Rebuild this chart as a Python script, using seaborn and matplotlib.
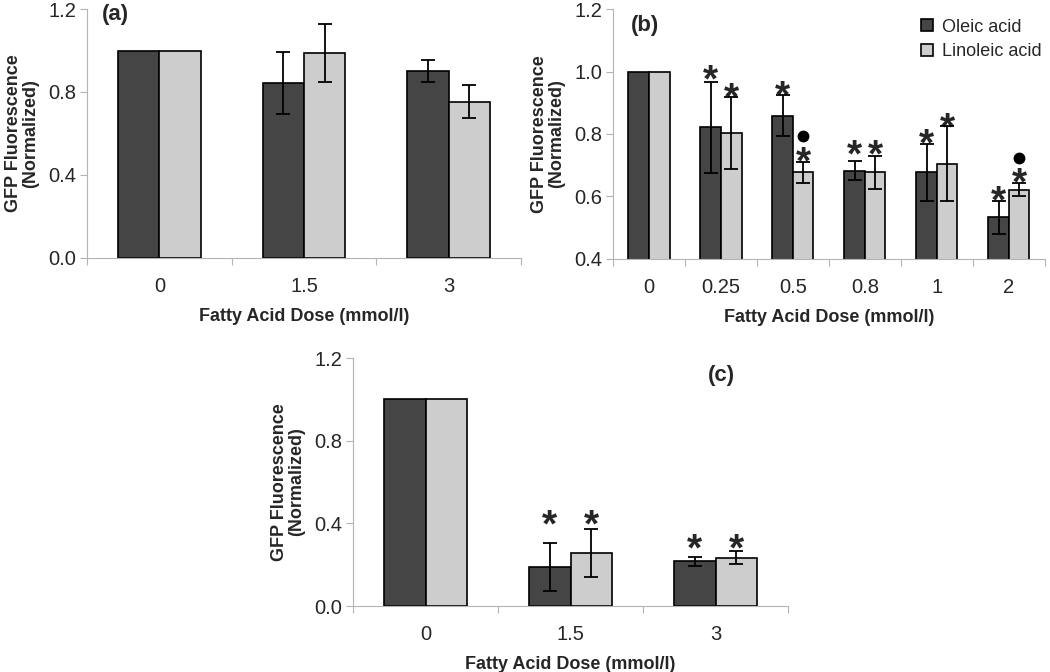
import numpy as np
import pandas as pd
import matplotlib
matplotlib.use("Agg")
import matplotlib.pyplot as plt
from matplotlib.container import BarContainer
import seaborn as sns

# ---------------- data ----------------
acids = ["Oleic acid", "Linoleic acid"]
colors = ["#454545", "#cdcdcd"]

doses_a = ["0", "1.5", "3"]
oleic_a = [1.0, 0.845, 0.903]
oleic_a_err = [0.0, 0.150, 0.053]
linoleic_a = [1.0, 0.986, 0.753]
linoleic_a_err = [0.0, 0.140, 0.080]

doses_b = ["0", "0.25", "0.5", "0.8", "1", "2"]
oleic_b = [1.0, 0.821, 0.859, 0.682, 0.677, 0.533]
oleic_b_err = [0.0, 0.147, 0.065, 0.030, 0.090, 0.052]
linoleic_b = [1.0, 0.803, 0.677, 0.677, 0.705, 0.622]
linoleic_b_err = [0.0, 0.115, 0.033, 0.052, 0.120, 0.022]
star_oleic_b = [None, 1.010, 0.959, 0.771, 0.806, 0.622]
star_linoleic_b = [None, 0.954, 0.749, 0.771, 0.856, 0.680]
dot_linoleic_b = [None, None, 0.795, None, None, 0.723]

doses_c = ["0", "1.5", "3"]
oleic_c = [1.0, 0.190, 0.216]
oleic_c_err = [0.0, 0.116, 0.022]
linoleic_c = [1.0, 0.258, 0.234]
linoleic_c_err = [0.0, 0.116, 0.033]
star_oleic_c = [None, 0.451, 0.332]
star_linoleic_c = [None, 0.451, 0.332]

yticks_ac = [0.0, 0.4, 0.8, 1.2]
yticks_b = [0.4, 0.6, 0.8, 1.0, 1.2]

# ---------------- style ----------------
sns.set_style("white")
plt.rcParams["font.family"] = ["Liberation Sans", "DejaVu Sans"]

SPINE = "#b4b4b4"


def panel(ax, doses, ol, ol_e, li, li_e, ylim, yticks, tag, tag_xy,
          stars=None, dots=None, legend=False):
    n = len(doses)
    df = pd.DataFrame({
        "dose": doses + doses,
        "value": ol + li,
        "acid": [acids[0]] * n + [acids[1]] * n,
    })
    sns.barplot(data=df, x="dose", y="value", hue="acid", order=doses,
                hue_order=acids, palette=colors, saturation=1, width=0.57,
                edgecolor="black", linewidth=1.2, errorbar=None, ax=ax,
                legend=legend)
    errs = [ol_e, li_e]
    bar_conts = [c for c in ax.containers if isinstance(c, BarContainer)]
    for k, cont in enumerate(bar_conts):
        bars = sorted(cont.patches, key=lambda b: b.get_x())
        xs = [b.get_x() + b.get_width() / 2 for b in bars]
        hs = [b.get_height() for b in bars]
        sel = [i for i in range(n) if errs[k][i] > 0]
        ax.errorbar([xs[i] for i in sel], [hs[i] for i in sel],
                    yerr=[errs[k][i] for i in sel], fmt="none",
                    ecolor="black", elinewidth=1.3, capsize=5, capthick=1.3,
                    zorder=5)
        if stars is not None:
            for i in range(n):
                if stars[k][i] is not None:
                    ax.annotate("*", (xs[i], stars[k][i]), xytext=(0, -9.5),
                                textcoords="offset points", ha="center",
                                va="center", fontsize=28, fontweight="bold")
        if dots is not None and dots[k] is not None:
            for i in range(n):
                if dots[k][i] is not None:
                    ax.plot(xs[i], dots[k][i], "o", color="black",
                            markersize=7.5, zorder=6)

    ax.set_ylim(*ylim)
    ax.set_yticks(yticks)
    ax.set_yticklabels([f"{t:.1f}" for t in yticks])
    ax.set_xlim(-0.5, n - 0.5)
    ax.set_xticks(np.arange(n))
    ax.set_xticklabels(doses)
    ax.set_xticks(np.arange(-0.5, n, 1.0), minor=True)
    ax.tick_params(axis="x", which="major", length=0, pad=14, labelsize=14.5)
    ax.tick_params(axis="x", which="minor", length=5, width=0.8,
                   color=SPINE, direction="out", bottom=True)
    ax.tick_params(axis="y", length=5, width=0.8, color=SPINE,
                   direction="out", left=True, labelsize=14.5, pad=3)
    for s in ["top", "right"]:
        ax.spines[s].set_visible(False)
    for s in ["left", "bottom"]:
        ax.spines[s].set_color(SPINE)
        ax.spines[s].set_linewidth(0.8)
    ax.set_xlabel("Fatty Acid Dose (mmol/l)", fontsize=13, fontweight="bold",
                  labelpad=8)
    ax.set_ylabel("GFP Fluorescence\n(Normalized)", fontsize=13,
                  fontweight="bold", labelpad=6, linespacing=1.05)
    ax.text(tag_xy[0], tag_xy[1], tag, transform=ax.transAxes, ha="center",
            va="center", fontsize=16, fontweight="bold")
    if legend:
        leg = ax.get_legend()
        handles = leg.legend_handles
        labels = [t.get_text() for t in leg.get_texts()]
        for h in handles:
            h.set_edgecolor("black")
            h.set_linewidth(1.2)
        ax.legend(handles, labels, loc="upper right",
                  bbox_to_anchor=(1.0, 0.976), frameon=False, fontsize=13,
                  handlelength=0.65, handleheight=0.65, handletextpad=0.5,
                  labelspacing=0.42, borderaxespad=0, borderpad=0.2)


fig = plt.figure(figsize=(10.5, 6.72), dpi=100)
ax_a = fig.add_axes([0.0829, 0.6161, 0.4133, 0.3705])
ax_b = fig.add_axes([0.5838, 0.6146, 0.4114, 0.3720])
ax_c = fig.add_axes([0.3362, 0.0982, 0.4143, 0.3690])

panel(ax_a, doses_a, oleic_a, oleic_a_err, linoleic_a, linoleic_a_err,
      (0, 1.2), yticks_ac, "(a)", (0.065, 0.976))
panel(ax_b, doses_b, oleic_b, oleic_b_err, linoleic_b, linoleic_b_err,
      (0.4, 1.2), yticks_b, "(b)", (0.074, 0.936),
      stars=[star_oleic_b, star_linoleic_b], dots=[None, dot_linoleic_b],
      legend=True)
panel(ax_c, doses_c, oleic_c, oleic_c_err, linoleic_c, linoleic_c_err,
      (0, 1.2), yticks_ac, "(c)", (0.848, 0.931),
      stars=[star_oleic_c, star_linoleic_c])

fig.savefig("out.png", dpi=100)
